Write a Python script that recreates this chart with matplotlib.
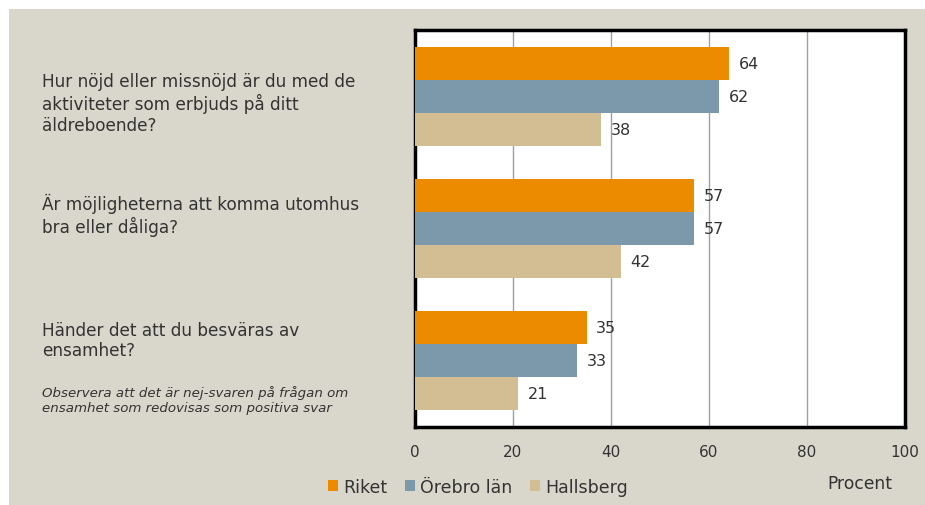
import matplotlib
matplotlib.use("Agg")
import matplotlib.pyplot as plt
import numpy as np

categories = [
    "Hur nöjd eller missnöjd är du med de\naktiviteter som erbjuds på ditt\näldreboende?",
    "Är möjligheterna att komma utomhus\nbra eller dåliga?",
    "Händer det att du besväras av\nensamhet?",
]
series_names = ["Riket", "Örebro län", "Hallsberg"]
riket = [64, 57, 35]
orebro = [62, 57, 33]
hallsberg = [38, 42, 21]
xticks = [0, 20, 40, 60, 80, 100]
note = "Observera att det är nej-svaren på frågan om\nensamhet som redovisas som positiva svar"
xlabel = "Procent"

colors = ["#EC8A00", "#7B99AB", "#D3BE94"]
bg = "#D9D7CB"
txt = "#333333"

plt.rcParams['font.family'] = ['DejaVu Sans']

fig = plt.figure(figsize=(9.25, 5.06), dpi=100, facecolor="white")
panel = plt.Rectangle((9/925, 0), 1 - 9/925, 1 - 10/506, transform=fig.transFigure,
                      facecolor=bg, edgecolor="none", zorder=-10)
fig.patches.append(panel)

L, R, T, B = 415/925, 905/925, 1 - 31/506, 1 - 428/506
ax = fig.add_axes([L, B, R - L, T - B])
ax.set_facecolor("white")

n = len(categories)
y = np.arange(n)
h = 0.25
all_series = [riket, orebro, hallsberg]
bars = []
for i, (vals, c, name) in enumerate(zip(all_series, colors, series_names)):
    pos = y + (i - 1) * h
    b = ax.barh(pos, vals, height=h, color=c, edgecolor="none", label=name, zorder=3)
    bars.append(b)
    for p, v in zip(pos, vals):
        ax.text(v + 2.0, p, str(v), va="center", ha="left", fontsize=11.5, color=txt, zorder=4)

ax.set_xlim(0, 100)
ax.set_ylim(n - 0.5, -0.5)
ax.set_xticks(xticks)
ax.set_xticklabels([str(t) for t in xticks], fontsize=11, color=txt)
ax.set_yticks([])
ax.tick_params(axis="x", length=0, pad=12)
ax.grid(axis="x", color="#A0A0A0", linewidth=1.0, zorder=1)
for s in ax.spines.values():
    s.set_color("black")
    s.set_linewidth(2.5)

cat_pos = [104, 215, 341]
for c, yy in zip(categories, cat_pos):
    fig.text(42/925, 1 - yy/506, c, ha="left", va="center", fontsize=12.2, color=txt,
             linespacing=1.18)
fig.text(42/925, 1 - 401/506, note, ha="left", va="center", fontsize=9.6, style="italic",
         color=txt, linespacing=1.2)

fig.text(860/925, 1 - 484/506, xlabel, ha="center", va="center", fontsize=12.3, color=txt)

leg = fig.legend(handles=bars, labels=series_names, loc="center",
                 bbox_to_anchor=(478/925, 1 - 488/506), ncol=3, frameon=False,
                 fontsize=12.5, handlelength=0.6, handleheight=0.6, handletextpad=0.3,
                 columnspacing=1.0, labelcolor=txt)

fig.savefig("out.png", dpi=100, facecolor=fig.get_facecolor())
